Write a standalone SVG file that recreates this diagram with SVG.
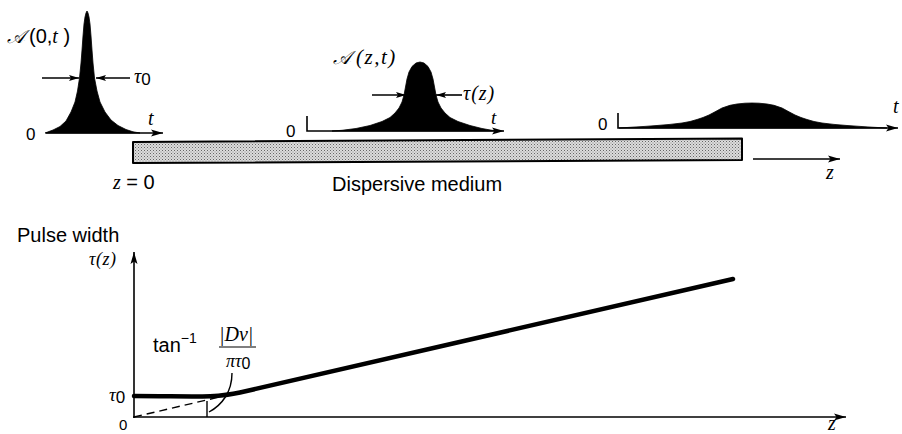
<svg xmlns="http://www.w3.org/2000/svg" width="902" height="434" viewBox="0 0 902 434">
<style>
.ax{stroke:#000;stroke-width:1.6;fill:none}
.pulse{fill:#000;stroke:#000;stroke-width:0.8}
.sans{font-family:"Liberation Sans",Arial,sans-serif;fill:#000}
.mi{font-family:"Liberation Serif","Times New Roman",serif;font-style:italic;fill:#000}
.scr{font-family:"DejaVu Serif","DejaVu Sans",serif;font-style:italic;fill:#000}
</style>
<defs>
<marker id="ah" viewBox="0 0 12 8" refX="12" refY="4" markerWidth="12" markerHeight="8" orient="auto" markerUnits="userSpaceOnUse">
<path d="M0,0.5 L12,4 L0,7.5 L2.5,4 Z" fill="#000"/>
</marker>
<marker id="sa" viewBox="0 0 10 7" refX="10" refY="3.5" markerWidth="10" markerHeight="7" orient="auto" markerUnits="userSpaceOnUse">
<path d="M0,0.5 L10,3.5 L0,6.5 L2,3.5 Z" fill="#000"/>
</marker>
<pattern id="stip" width="3" height="3" patternUnits="userSpaceOnUse">
<rect width="3" height="3" fill="#dcdcdc"/>
<rect x="0" y="0" width="1" height="1" fill="#666"/>
<rect x="1.5" y="1.5" width="1" height="1" fill="#888"/>
</pattern>
</defs>

<g id="pulse-z0">
<path class="pulse" d="M45,133 L49,131.5 L53,130 L60,126.5 L66,121 L71,112 L75,102 L77.5,91 L79.5,78 L81,63 L82,50 L83,36 L84,24 L85,17 L86,13 L87,11 L88,13 L89,17 L90,24 L91,36 L92,50 L93,63 L94.5,78 L97,91 L100,102 L105,112 L111,120 L118,125.5 L126,129.5 L133,131.8 L140,133 Z"/>
<line class="ax" x1="46" y1="133" x2="163" y2="133" marker-end="url(#ah)"/>
<line class="ax" x1="42" y1="78" x2="79" y2="78" stroke-width="1.3" marker-end="url(#sa)"/>
<line class="ax" x1="130" y1="78" x2="96" y2="78" stroke-width="1.3" marker-end="url(#sa)"/>
<text class="sans" x="26" y="140" font-size="17">0</text>
<text class="mi" x="148" y="125" font-size="20">t</text>
<text x="134" y="83"><tspan class="mi" font-size="20">τ</tspan><tspan class="sans" font-size="17" dy="2">0</tspan></text>
<text x="7" y="43"><tspan class="scr" font-size="19">𝒜</tspan><tspan class="sans" font-size="20" dx="4">(0,</tspan><tspan class="mi" font-size="20">t</tspan><tspan class="sans" font-size="20"> )</tspan></text>
</g>

<g id="pulse-z">
<path class="pulse" d="M332,131 L342,130.3 L356,128.5 L370,125.5 L382,121.5 L390,117.5 L395,113 L399,108 L402,102 L404,95 L405.5,87 L407,79 L409,72 L412,66.5 L416,63 L420,62 L424,63 L428,66.5 L431,72 L433,79 L434.5,87 L436,95 L438,102 L441,108 L445,113 L450,117.5 L458,121.5 L470,125.5 L482,128.5 L492,130.3 L498,131 Z"/>
<polyline class="ax" points="307,116 307,131 504,131" marker-end="url(#ah)"/>
<line class="ax" x1="372" y1="95" x2="406" y2="95" stroke-width="1.3" marker-end="url(#sa)"/>
<line class="ax" x1="462" y1="95" x2="436" y2="95" stroke-width="1.3" marker-end="url(#sa)"/>
<text class="sans" x="286" y="137" font-size="17">0</text>
<text class="mi" x="491" y="124" font-size="19">t</text>
<text class="mi" x="463" y="100" font-size="20" letter-spacing="1">τ(z)</text>
<text x="333" y="64"><tspan class="scr" font-size="19">𝒜</tspan><tspan class="mi" font-size="21" dx="5" letter-spacing="1.5">(z,t)</tspan></text>
</g>

<g id="pulse-far">
<path class="pulse" d="M619,128 L632,127.2 L645,126.4 L657,125.5 L670,124.4 L682,123 L690,121.5 L697,119.5 L703,117.5 L709,115 L716,111.3 L722,108 L730,105.3 L737,104 L745,103.2 L752,103 L759,103.2 L767,104 L774,105.3 L782,108 L788,111.3 L795,115 L801,117.5 L807,119.5 L814,121.5 L822,123 L834,124.4 L847,125.5 L860,126.4 L872,127.2 L887,128 Z"/>
<polyline class="ax" points="618,113 618,128 898,128" marker-end="url(#ah)"/>
<text class="sans" x="598" y="130" font-size="17">0</text>
<text class="mi" x="893" y="113" font-size="20">t</text>
</g>

<g id="medium">
<polygon points="133,142 742,138.5 742,160 133,163" fill="url(#stip)" stroke="#000" stroke-width="2" stroke-linejoin="round"/>
<text class="sans" x="332" y="191" font-size="20">Dispersive medium</text>
<text x="113" y="189"><tspan class="mi" font-size="20">z</tspan><tspan class="sans" font-size="20"> = 0</tspan></text>
</g>

<g id="z-direction">
<line class="ax" x1="753" y1="159" x2="840" y2="159" marker-end="url(#ah)"/>
<text class="mi" x="826" y="179" font-size="20">z</text>
</g>

<g id="graph">
<text class="sans" x="17" y="242" font-size="20">Pulse width</text>
<line class="ax" x1="134" y1="418" x2="134" y2="252" marker-end="url(#ah)"/>
<line class="ax" x1="133" y1="417" x2="846" y2="417" marker-end="url(#ah)"/>
<text class="mi" x="89" y="265" font-size="18" letter-spacing="0.5">τ(z)</text>
<text x="109" y="401"><tspan class="mi" font-size="19">τ</tspan><tspan class="sans" font-size="17" dy="2">0</tspan></text>
<text class="sans" x="119" y="430" font-size="15">0</text>
<text class="mi" x="828" y="430" font-size="20">z</text>
</g>

<g id="connectors">
<path d="M134,396 C190,396 215,398.3 240,392.5 L733,279" fill="none" stroke="#000" stroke-width="4.5" stroke-linecap="round"/>
<line x1="134" y1="417" x2="228" y2="395" stroke="#000" stroke-width="1.4" stroke-dasharray="8,5"/>
<path d="M232,373 C232,392 222,405 209,412" fill="none" stroke="#000" stroke-width="1.4"/>
<line x1="207" y1="401" x2="207" y2="417" stroke="#000" stroke-width="1.4"/>
</g>

<g id="angle-label">
<text x="153" y="352"><tspan class="sans" font-size="20">tan</tspan><tspan class="sans" font-size="14" dy="-9">−1</tspan></text>
<text class="mi" x="219" y="341" font-size="20">|Dν|</text>
<line x1="219" y1="347" x2="256" y2="347" stroke="#000" stroke-width="1.2"/>
<text x="226" y="367"><tspan class="mi" font-size="18">πτ</tspan><tspan class="sans" font-size="16" dy="2">0</tspan></text>
</g>
</svg>
